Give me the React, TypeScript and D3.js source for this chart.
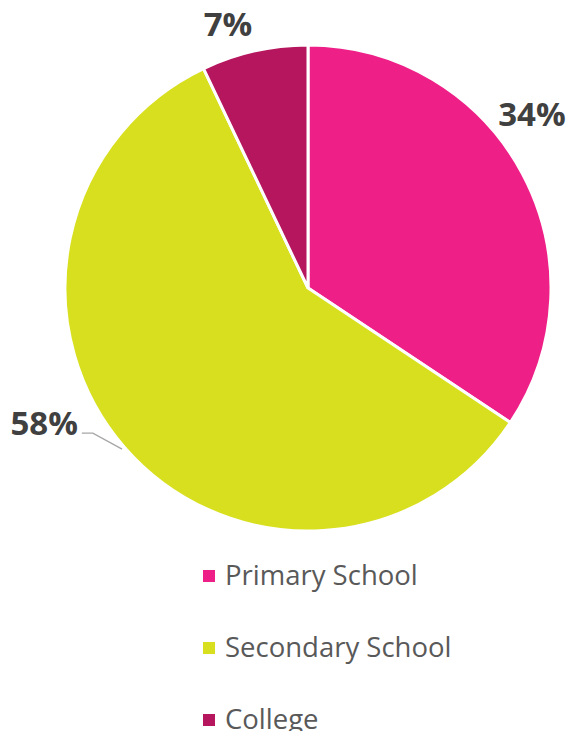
import React from "react";
import * as d3 from "d3";

const categories = ["Primary School", "Secondary School", "College"];
const values = [34, 58, 7];
const labels = ["34%", "58%", "7%"];
const colors = ["#EE2088", "#D8DF1F", "#B5165E"];

const W = 568;
const H = 731;
const cx = 308;
const cy = 288;
const R = 243;

// label placement: offset from arc edge point at mid angle
const labelShift: [number, number][] = [
  [-24, -47],
  [-46.5, -12],
  [-26.5, -15],
];
const labelAnchor = ["start", "end", "middle"];

export default function App() {
  const pie = d3
    .pie<number>()
    .sort(null)
    .value((d) => d);
  const arcs = pie(values);
  const arc = d3.arc<d3.PieArcDatum<number>>().innerRadius(0).outerRadius(R);
  const font = "'Open Sans', 'DejaVu Sans', sans-serif";

  const pt = (a: number, r: number) => [Math.sin(a) * r, -Math.cos(a) * r];

  return (
    <svg
      width={W}
      height={H}
      style={{ position: "absolute", left: 0, top: 0, background: "#fff" }}
    >
      <g transform={`translate(${cx},${cy})`}>
        {arcs.map((a, i) => (
          <path
            key={i}
            d={arc(a) || ""}
            fill={colors[i]}
            stroke="#fff"
            strokeWidth={3}
          />
        ))}
        {arcs.map((a, i) => {
          const mid = (a.startAngle + a.endAngle) / 2;
          const [ex, ey] = pt(mid, R);
          const x = ex + labelShift[i][0];
          const y = ey + labelShift[i][1];
          let leader = null;
          if (i === 1) {
            const [px, py] = pt(mid, R + 3);
            leader = (
              <polyline
                points={`${px},${py} ${x + 15},${y - 2} ${x + 4},${y - 2}`}
                fill="none"
                stroke="#A6A6A6"
                strokeWidth={1.3}
              />
            );
          }
          return (
            <g key={"l" + i}>
              {leader}
              <text
                x={x}
                y={y}
                textAnchor={labelAnchor[i]}
                fontFamily={font}
                fontWeight={700}
                fontSize={33}
                fill="#404040"
              >
                {labels[i]}
              </text>
            </g>
          );
        })}
      </g>
      <g transform="translate(203,570)">
        {categories.map((c, i) => (
          <g key={c} transform={`translate(0,${i * 72})`}>
            <rect width={12} height={12} fill={colors[i]} />
            <text
              x={22}
              y={15}
              fontFamily={font}
              fontSize={27.5}
              fill="#595959"
            >
              {c}
            </text>
          </g>
        ))}
      </g>
    </svg>
  );
}
